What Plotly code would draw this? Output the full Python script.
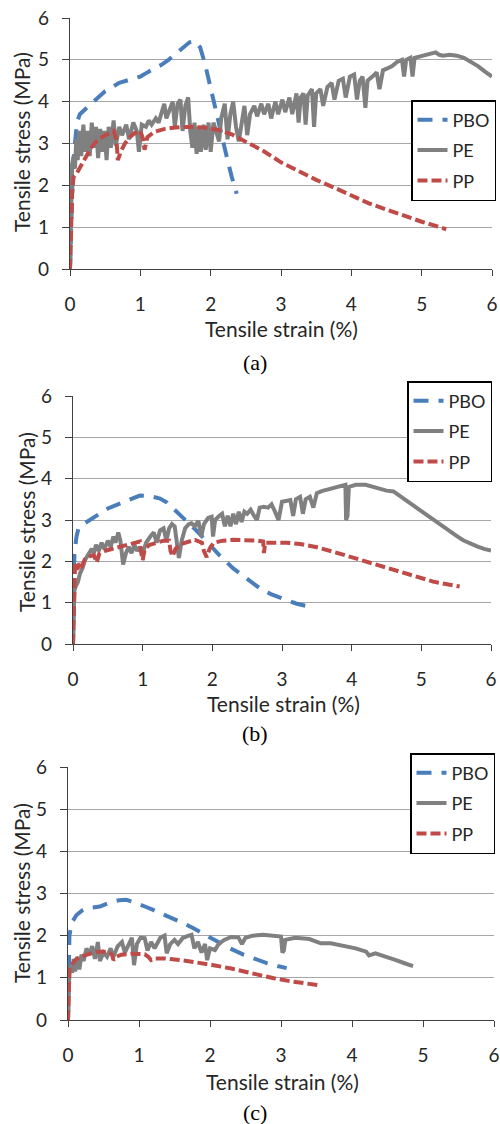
import plotly.graph_objects as go

# ---------------- data (strain %, stress MPa) ----------------
series_names = ["PBO", "PE", "PP"]
panel_labels = ["(a)", "(b)", "(c)"]
tick_values = [0, 1, 2, 3, 4, 5, 6]

# (a)
pbo_a_x = [0, 0.02, 0.04, 0.07, 0.10, 0.14, 0.2, 0.3, 0.4, 0.5, 0.6, 0.7, 0.8, 0.9, 1.0, 1.1, 1.2, 1.3, 1.4, 1.5, 1.6, 1.7, 1.78, 1.85, 1.92, 2.0, 2.08, 2.16, 2.24, 2.3, 2.37]
pbo_a_y = [0, 1.2, 2.3, 3.0, 3.5, 3.7, 3.8, 3.95, 4.1, 4.25, 4.35, 4.45, 4.5, 4.55, 4.6, 4.7, 4.78, 4.88, 5.0, 5.15, 5.3, 5.42, 5.45, 5.3, 4.9, 4.3, 3.7, 3.1, 2.6, 2.2, 1.8]

pe_a_x = [0, 0.01, 0.03, 0.05, 0.07, 0.09, 0.11, 0.13, 0.16, 0.19, 0.22, 0.25, 0.28, 0.31, 0.34, 0.37, 0.40, 0.43, 0.46, 0.49, 0.52, 0.55, 0.58, 0.62, 0.65, 0.70, 0.74, 0.80, 0.84, 0.90, 0.95, 0.98, 1.02, 1.08, 1.12, 1.16, 1.22, 1.26, 1.30, 1.34, 1.37, 1.42, 1.46, 1.49, 1.53, 1.57, 1.60, 1.64, 1.68, 1.71, 1.74, 1.77, 1.80, 1.83, 1.86, 1.90, 1.93, 1.97, 2.00, 2.04, 2.08, 2.12, 2.15, 2.20, 2.24, 2.28, 2.32, 2.36, 2.40, 2.44, 2.48, 2.52, 2.56, 2.62, 2.66, 2.72, 2.76, 2.82, 2.86, 2.92, 2.96, 3.02, 3.06, 3.12, 3.16, 3.22, 3.25, 3.28, 3.32, 3.35, 3.38, 3.44, 3.47, 3.50, 3.56, 3.60, 3.66, 3.72, 3.76, 3.82, 3.88, 3.92, 3.98, 4.04, 4.08, 4.12, 4.16, 4.20, 4.23, 4.30, 4.36, 4.40, 4.45, 4.52, 4.58, 4.65, 4.72, 4.75, 4.78, 4.84, 4.87, 4.90, 5.00, 5.10, 5.20, 5.25, 5.30, 5.40, 5.50, 5.60, 5.70, 5.80, 5.90, 6.00]
pe_a_y = [0, 1.5, 2.5, 2.7, 2.4, 3.1, 2.6, 3.3, 2.7, 3.45, 2.8, 3.3, 2.7, 3.5, 2.9, 3.4, 2.65, 3.35, 2.8, 3.3, 2.6, 3.4, 2.9, 3.55, 2.95, 3.4, 3.2, 3.45, 3.1, 3.5, 3.3, 2.8, 3.45, 3.4, 3.55, 3.45, 3.6, 3.5, 3.75, 3.95, 3.6, 3.85, 4.0, 3.4, 3.95, 4.05, 3.3, 3.9, 4.1, 3.3, 2.9, 3.5, 2.75, 3.4, 2.8, 3.45, 2.85, 3.5, 2.8, 3.5, 3.3, 3.05, 3.6, 3.95, 3.1, 3.7, 4.0, 3.4, 3.05, 3.55, 3.9, 3.2, 3.7, 3.9, 3.65, 3.95, 3.7, 3.95, 3.6, 4.0, 3.7, 4.05, 3.75, 4.1, 3.7, 4.2, 3.5, 4.1, 4.2, 3.45, 4.15, 4.3, 3.4, 4.2, 4.3, 3.9, 4.35, 4.45, 4.05, 4.5, 4.55, 4.1, 4.6, 4.65, 4.05, 4.5, 4.6, 3.85, 4.5, 4.6, 4.7, 4.3, 4.75, 4.8, 4.85, 4.95, 5.0, 4.6, 5.0, 5.05, 4.6, 5.05, 5.1, 5.15, 5.18, 5.12, 5.1, 5.12, 5.1, 5.05, 4.95, 4.85, 4.72, 4.6]

pp_a_x = [0, 0.01, 0.03, 0.05, 0.1, 0.15, 0.2, 0.25, 0.3, 0.35, 0.4, 0.45, 0.5, 0.55, 0.62, 0.66, 0.68, 0.72, 0.78, 0.85, 0.92, 1.0, 1.04, 1.06, 1.1, 1.2, 1.35, 1.5, 1.7, 1.9, 2.1, 2.3, 2.5, 2.75, 3.0, 3.25, 3.5, 3.75, 4.0, 4.25, 4.5, 4.75, 5.0, 5.2, 5.35]
pp_a_y = [0, 0.8, 1.8, 2.2, 2.3, 2.45, 2.6, 2.75, 2.9, 3.0, 3.1, 3.15, 3.2, 3.25, 3.3, 3.1, 2.6, 2.8, 3.0, 3.15, 3.25, 3.3, 3.1, 2.85, 3.15, 3.28, 3.35, 3.38, 3.4, 3.38, 3.33, 3.22, 3.05, 2.82, 2.55, 2.33, 2.13, 1.95, 1.75, 1.57, 1.42, 1.27, 1.13, 1.03, 0.95]

# (b)
pbo_b_x = [0, 0.005, 0.01, 0.02, 0.05, 0.08, 0.15, 0.2, 0.3, 0.39, 0.5, 0.67, 0.8, 0.96, 1.1, 1.25, 1.35, 1.44, 1.53, 1.63, 1.75, 1.92, 2.1, 2.3, 2.5, 2.68, 2.85, 3.02, 3.2, 3.4]
pbo_b_y = [0, 1.0, 1.8, 2.15, 2.6, 2.8, 2.9, 2.96, 3.08, 3.16, 3.28, 3.4, 3.48, 3.59, 3.58, 3.52, 3.42, 3.28, 3.12, 2.96, 2.78, 2.48, 2.15, 1.83, 1.58, 1.35, 1.2, 1.1, 0.98, 0.9]

pe_b_x = [0, 0.01, 0.02, 0.04, 0.07, 0.1, 0.14, 0.17, 0.22, 0.27, 0.3, 0.33, 0.37, 0.41, 0.45, 0.5, 0.54, 0.58, 0.61, 0.65, 0.68, 0.70, 0.72, 0.76, 0.8, 0.84, 0.88, 0.92, 0.96, 1.0, 1.05, 1.11, 1.16, 1.2, 1.25, 1.3, 1.34, 1.38, 1.42, 1.46, 1.5, 1.52, 1.56, 1.61, 1.66, 1.7, 1.75, 1.8, 1.84, 1.88, 1.94, 1.99, 2.01, 2.04, 2.1, 2.14, 2.18, 2.22, 2.26, 2.3, 2.34, 2.38, 2.42, 2.46, 2.5, 2.55, 2.6, 2.64, 2.68, 2.74, 2.8, 2.85, 2.9, 2.95, 3.0, 3.06, 3.12, 3.16, 3.2, 3.26, 3.3, 3.34, 3.4, 3.45, 3.5, 3.57, 3.64, 3.71, 3.78, 3.85, 3.91, 3.92, 3.94, 3.96, 4.06, 4.2, 4.3, 4.4, 4.5, 4.6, 4.7, 4.8, 4.9, 5.0, 5.1, 5.2, 5.3, 5.4, 5.5, 5.6, 5.7, 5.8, 5.9, 6.0]
pe_b_y = [0, 0.8, 1.3, 1.4, 1.5, 1.7, 1.85, 2.03, 2.15, 2.3, 2.2, 2.4, 2.25, 2.45, 2.3, 2.5, 2.35, 2.6, 2.45, 2.7, 2.5, 2.1, 1.92, 2.2, 2.35, 2.2, 2.4, 2.25, 2.35, 2.2, 2.45, 2.6, 2.7, 2.45, 2.75, 2.8, 2.5, 2.8, 2.9, 2.84, 2.3, 2.08, 2.5, 2.8, 2.9, 2.92, 2.85, 2.98, 2.6, 2.9, 3.05, 3.08, 2.6, 3.0, 3.1, 3.15, 2.85, 3.1, 2.85, 3.15, 2.9, 3.2, 2.95, 3.2, 3.15, 3.25, 3.1, 3.0, 3.3, 3.32, 3.3, 3.38, 3.2, 3.0, 3.44, 3.45, 3.48, 3.1, 3.5, 3.56, 3.15, 3.5, 3.56, 3.3, 3.65, 3.7, 3.73, 3.77, 3.8, 3.83, 3.85, 3.0, 3.1, 3.8, 3.85, 3.85, 3.8, 3.74, 3.71, 3.69, 3.57, 3.45, 3.33, 3.2, 3.1, 2.98, 2.86, 2.74, 2.62, 2.51, 2.43, 2.36, 2.3, 2.26]

pp_b_x = [0, 0.01, 0.02, 0.03, 0.06, 0.09, 0.12, 0.17, 0.24, 0.3, 0.34, 0.38, 0.45, 0.55, 0.63, 0.72, 0.8, 0.9, 0.96, 0.98, 1.0, 1.03, 1.1, 1.2, 1.3, 1.38, 1.4, 1.43, 1.47, 1.55, 1.65, 1.75, 1.85, 1.88, 1.92, 1.96, 2.02, 2.15, 2.3, 2.49, 2.65, 2.73, 2.74, 2.76, 2.9, 3.06, 3.26, 3.5, 3.74, 4.0, 4.22, 4.45, 4.69, 4.93, 5.17, 5.35, 5.55]
pp_b_y = [0, 0.8, 1.6, 1.95, 1.8, 1.95, 1.85, 2.05, 2.12, 2.15, 1.97, 2.2, 2.25, 2.3, 2.33, 2.38, 2.42, 2.45, 2.48, 2.2, 2.03, 2.3, 2.4, 2.45, 2.5, 2.5, 2.25, 2.12, 2.3, 2.42, 2.48, 2.52, 2.45, 2.25, 2.1, 2.3, 2.45, 2.5, 2.52, 2.52, 2.5, 2.48, 2.2, 2.45, 2.46, 2.45, 2.42, 2.34, 2.23, 2.1, 1.99, 1.87, 1.75, 1.63, 1.51, 1.45, 1.39]

# (c)
pbo_c_x = [0, 0.005, 0.01, 0.02, 0.05, 0.12, 0.2, 0.26, 0.35, 0.45, 0.55, 0.63, 0.72, 0.82, 0.92, 1.01, 1.1, 1.2, 1.34, 1.48, 1.62, 1.76, 1.92, 2.09, 2.28, 2.47, 2.64, 2.8, 2.95, 3.08]
pbo_c_y = [0, 0.8, 1.62, 2.0, 2.3, 2.49, 2.6, 2.65, 2.67, 2.69, 2.76, 2.81, 2.84, 2.85, 2.8, 2.73, 2.68, 2.61, 2.51, 2.41, 2.3, 2.18, 2.03, 1.86, 1.7, 1.55, 1.44, 1.35, 1.28, 1.23]

pe_c_x = [0, 0.01, 0.02, 0.04, 0.06, 0.08, 0.1, 0.13, 0.16, 0.19, 0.22, 0.26, 0.3, 0.34, 0.38, 0.42, 0.45, 0.5, 0.55, 0.6, 0.64, 0.7, 0.76, 0.8, 0.85, 0.9, 0.93, 0.97, 1.02, 1.08, 1.12, 1.17, 1.22, 1.3, 1.36, 1.39, 1.44, 1.5, 1.55, 1.62, 1.7, 1.74, 1.78, 1.83, 1.88, 1.93, 1.96, 2.0, 2.07, 2.12, 2.2, 2.3, 2.4, 2.45, 2.5, 2.6, 2.75, 2.9, 3.0, 3.02, 3.04, 3.06, 3.2, 3.4, 3.5, 3.56, 3.7, 3.9, 4.05, 4.2, 4.24, 4.33, 4.5, 4.62, 4.75, 4.86]
pe_c_y = [0, 0.8, 1.15, 1.3, 1.12, 1.45, 1.15, 1.5, 1.2, 1.55, 1.4, 1.7, 1.55, 1.75, 1.45, 1.85, 1.4, 1.6, 1.5, 1.7, 1.5, 1.75, 1.85, 1.6, 1.8, 1.95, 1.3, 1.8, 1.95, 1.94, 1.65, 1.85, 1.7, 1.95, 2.0, 1.58, 1.8, 1.9, 1.8, 1.95, 2.0, 2.02, 1.7, 1.85, 1.6, 1.8, 1.42, 1.7, 1.66, 1.8, 1.9, 1.97, 1.96, 1.8, 1.95, 2.0, 2.02, 2.01, 1.98, 1.6, 1.65, 1.9, 1.95, 1.92, 1.85, 1.82, 1.82, 1.75, 1.7, 1.62, 1.53, 1.58, 1.5, 1.42, 1.34, 1.28]

pp_c_x = [0, 0.01, 0.02, 0.05, 0.1, 0.17, 0.24, 0.33, 0.43, 0.57, 0.62, 0.64, 0.68, 0.75, 0.89, 1.08, 1.13, 1.17, 1.22, 1.36, 1.6, 1.83, 2.05, 2.3, 2.5, 2.67, 2.9, 3.13, 3.35, 3.55]
pp_c_y = [0, 0.7, 1.2, 1.3, 1.42, 1.5, 1.54, 1.58, 1.62, 1.62, 1.55, 1.42, 1.5, 1.55, 1.57, 1.56, 1.5, 1.42, 1.46, 1.46, 1.42, 1.37, 1.3, 1.22, 1.14, 1.08, 0.99, 0.92, 0.86, 0.82]

panels = [
    [(pbo_a_x, pbo_a_y), (pe_a_x, pe_a_y), (pp_a_x, pp_a_y)],
    [(pbo_b_x, pbo_b_y), (pe_b_x, pe_b_y), (pp_b_x, pp_b_y)],
    [(pbo_c_x, pbo_c_y), (pe_c_x, pe_c_y), (pp_c_x, pp_c_y)],
]

# ---------------- styling / layout ----------------
W, H = 500, 1124
colors = ["#4A7EBB", "#808080", "#BE4B48"]
dashes = ["15px,10px", "solid", "10px,4px"]
FONT = "Lato, 'Open Sans', sans-serif"
TXT = "#262626"

# pixel boxes: (x0, x6, ytop(6), ybottom(0))
boxes = [(70, 492, 18, 269), (73, 491, 396, 644), (68, 494, 767, 1020)]
legend_pos = [(496, 103), (492, 384), (495, 756)]
ytitle_pos = [(22, 142), (26, 522), (21, 893)]
xtitle_pos = [(281, 329), (283, 703), (282, 1081)]
cap_pos = [(255, 362), (255, 733), (255, 1112)]

fig = go.Figure()
layout = dict(width=W, height=H, margin=dict(l=0, r=0, t=0, b=0, autoexpand=False),
              paper_bgcolor="white", plot_bgcolor="white", showlegend=True,
              annotations=[])

for p in range(3):
    xn = "x" if p == 0 else f"x{p+1}"
    yn = "y" if p == 0 else f"y{p+1}"
    lg = "legend" if p == 0 else f"legend{p+1}"
    for s in range(3):
        xs, ys = panels[p][s]
        fig.add_trace(go.Scatter(
            x=xs, y=ys, mode="lines", name=series_names[s],
            line=dict(color=colors[s], width=4, dash=dashes[s]),
            xaxis=xn, yaxis=yn, legend=lg, legendgroup=f"{p}{s}",
            hoverinfo="skip"))
    x0, x6, yt, yb = boxes[p]
    xk = "xaxis" if p == 0 else f"xaxis{p+1}"
    yk = "yaxis" if p == 0 else f"yaxis{p+1}"
    layout[xk] = dict(domain=[x0 / W, x6 / W], range=[0, 6], anchor=yn, automargin=False,
                      tickvals=tick_values, ticks="outside", ticklen=6, tickcolor="#404040",
                      showline=True, linecolor="#404040", linewidth=1, showgrid=False,
                      zeroline=False, ticklabelstandoff=12,
                      tickfont=dict(family=FONT, size=19, color=TXT))
    layout[yk] = dict(domain=[1 - yb / H, 1 - yt / H], range=[0, 6], anchor=xn, automargin=False,
                      tickvals=tick_values, ticks="outside", ticklen=7, tickcolor="#404040",
                      showline=True, linecolor="#404040", linewidth=1.2,
                      showgrid=True, gridcolor="#A6A6A6", gridwidth=1.2,
                      zeroline=False, ticklabelstandoff=9,
                      tickfont=dict(family=FONT, size=19, color=TXT))
    lx, ly = legend_pos[p]
    layout[lg] = dict(x=lx / W, y=1 - (ly - 3) / H, xanchor="right", yanchor="top",
                      xref="paper", yref="paper", bgcolor="white",
                      bordercolor="#000000", borderwidth=1.5,
                      font=dict(family=FONT, size=18, color=TXT),
                      traceorder="grouped", tracegroupgap=4, itemclick=False)
    tx, ty = ytitle_pos[p]
    layout["annotations"].append(dict(
        x=tx / W, y=1 - ty / H, xref="paper", yref="paper", text="Tensile stress (MPa)",
        textangle=-90, showarrow=False, xanchor="center", yanchor="middle",
        font=dict(family=FONT, size=21, color=TXT)))
    tx, ty = xtitle_pos[p]
    layout["annotations"].append(dict(
        x=tx / W, y=1 - ty / H, xref="paper", yref="paper", text="Tensile strain (%)",
        showarrow=False, xanchor="center", yanchor="middle",
        font=dict(family=FONT, size=21, color=TXT)))
    tx, ty = cap_pos[p]
    layout["annotations"].append(dict(
        x=tx / W, y=1 - ty / H, xref="paper", yref="paper", text=panel_labels[p],
        showarrow=False, xanchor="center", yanchor="middle",
        font=dict(family="'Liberation Serif', 'Times New Roman', serif", size=22, color="#000000")))

fig.update_layout(**layout)
fig.write_html("out.html", config={"displayModeBar": False},
               post_script="document.body.style.margin='0';document.body.style.overflow='hidden';")
